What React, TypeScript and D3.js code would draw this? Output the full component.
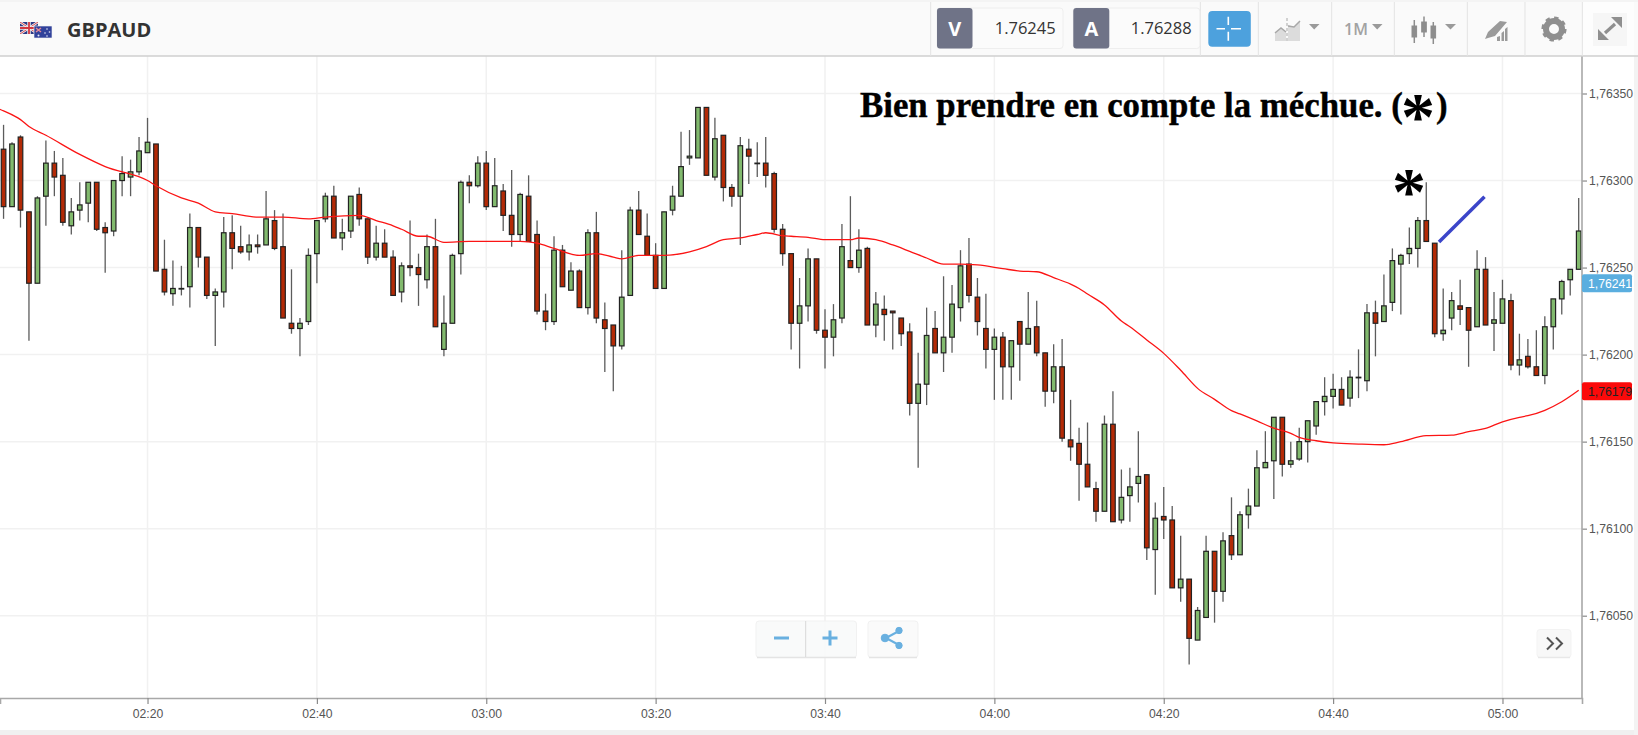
import { useEffect, useRef } from 'react';
import * as d3 from 'd3';

// prices are stored as points above 1.76000
const BASE_PRICE = 1.76;
const FIRST_MINUTE = 123; // 02:03

const opens = [
  318,285,325,282,241,291,310,303,274,283,
  287,299,273,271,300,302,305,316,321,249,
  235,238,239,273,256,234,236,270,262,259,
  263,263,277,262,218,215,219,258,278,291,
  267,271,292,278,256,264,256,236,251,250,
  243,262,203,218,258,299,297,310,285,294,
  280,269,291,269,225,219,260,237,248,227,
  270,220,217,205,234,283,268,257,238,283,
  291,313,313,342,302,326,296,291,318,310,
  310,304,272,258,218,228,255,214,210,221,
  254,250,261,217,226,225,221,213,172,183,
  215,201,210,227,252,233,215,203,210,193,
  219,206,216,201,179,193,151,149,137,123,
  110,160,105,119,126,131,88,107,105,66,
  71,36,49,87,64,96,85,108,113,135,
  139,164,137,140,150,159,173,176,180,175,
  187,185,224,219,230,252,258,261,277,264,
  212,221,228,227,216,249,218,218,231,194,
  199,193,188,216,232,243,249,
];
const closes = [
  285,321,283,241,290,310,302,276,282,286,
  299,272,270,300,304,305,317,322,248,236,
  238,238,273,256,234,236,270,261,259,263,
  262,278,261,221,215,218,257,277,291,267,
  270,291,278,256,264,256,234,251,250,246,
  262,216,218,257,299,297,310,285,297,280,
  269,292,265,225,219,260,239,248,227,270,
  221,215,205,233,283,269,257,238,282,291,
  308,314,342,303,324,296,291,320,314,310,
  303,272,258,218,228,255,214,210,220,262,
  250,260,217,229,223,224,212,172,183,211,
  201,210,229,251,234,219,203,210,193,208,
  206,215,201,179,193,152,147,137,124,110,
  160,104,118,124,130,89,106,105,66,71,
  37,53,87,64,93,85,108,113,135,138,
  164,137,139,150,162,173,176,180,171,187,
  187,224,218,228,254,257,261,277,265,212,
  214,231,226,214,249,217,220,232,194,197,
  193,188,216,232,242,249,271,
];
const highs = [
  332,322,326,282,291,323,317,313,290,299,
  299,299,276,300,314,312,325,336,321,266,
  254,251,281,273,256,238,279,280,274,269,
  269,294,283,281,249,221,261,277,293,297,
  278,291,296,278,274,272,260,253,277,258,
  269,278,234,258,300,303,314,317,313,298,
  306,293,303,277,235,268,263,253,249,272,
  282,230,217,260,285,294,281,264,282,297,
  328,329,342,342,336,326,298,325,324,322,
  325,305,275,258,244,261,255,226,229,275,
  291,272,262,236,234,225,221,218,201,227,
  225,245,240,260,267,244,235,215,213,208,
  219,236,231,201,206,209,174,158,161,127,
  165,179,134,135,156,131,115,124,113,96,
  71,55,96,87,98,118,110,123,145,156,
  164,164,150,158,162,173,187,189,187,191,
  203,229,231,246,261,258,273,279,299,264,
  238,236,243,227,260,256,236,243,235,212,
  209,214,222,232,243,249,290,
];
const lows = [
  278,285,273,208,241,274,291,274,269,277,
  276,271,247,268,291,291,303,316,248,234,
  228,234,227,250,232,205,227,249,258,254,
  258,263,260,221,212,199,217,241,276,267,
  260,267,274,252,254,256,234,230,245,228,
  238,216,199,218,246,287,296,283,285,271,
  262,265,265,223,214,217,239,237,227,223,
  218,190,179,203,234,269,257,238,238,280,
  291,309,313,303,300,288,285,263,298,302,
  296,270,251,203,192,219,212,192,199,218,
  250,247,217,210,208,203,205,165,135,171,
  201,190,201,219,230,211,192,174,174,174,
  185,206,199,170,172,150,139,116,124,104,
  110,104,103,104,115,82,62,94,66,58,
  22,36,49,46,58,82,85,100,113,135,
  117,130,135,139,138,154,165,169,171,170,
  175,179,199,219,225,223,252,250,265,210,
  208,214,217,193,216,217,202,218,191,188,
  192,188,183,203,223,234,249,
];

// moving average, read at these candle numbers
const maCandles = [
  -1,0,2,3,5,9,12,17,18,21,23,25,27,30,33,36,38,42,44,
  46,47,49,50,52,55,58,61,63,65,68,70,72,73,75,78,81,83,85,87,89,
  90,92,93,95,97,100,101,103,105,107,109,111,113,115,118,120,122,124,126,127,128,130,132,133,
  135,137,139,141,143,145,146,148,150,152,153,155,157,160,163,165,168,171,173,175,177,179,180,182,184,186,
];
const maValues = [
  342,340,335,331,326,315,308,300,297,290,287,282,281,279,279,278,279,280,277,
  274,272,268,268,264.5,265,265,265,264,261,257,258,256,255,257,257,259,262,266,267,269,
  270,268.3,268,267.4,266,266,267,266,263,259.3,255.5,252,252,251.5,249.4,248,247.6,244.2,240.5,238,234.8,228.5,219.3,216,
  208.4,200.7,191,180.6,174.3,167.8,165.9,161.9,157.7,154.8,152.4,150.5,149.3,148.6,148.2,150,153.4,153.7,155.7,157.6,161.4,164,164.9,168,172.9,179.5,
];

const priceTicks = [1.7605, 1.761, 1.7615, 1.762, 1.7625, 1.763, 1.7635];
const timeTicks = [140, 160, 180, 200, 220, 240, 260, 280, 300];
const bidLabel = 1.76241;
const maLabel = 1.76179;

const symbol = 'GBPAUD';
const sellQuote = '1.76245';
const buyQuote = '1.76288';
const note = 'Bien prendre en compte la méchue. (';

const frFormat = (v: number) => v.toFixed(5).replace('.', ',');
const timeFormat = (m: number) => `${String(Math.floor(m / 60)).padStart(2, '0')}:${String(m % 60).padStart(2, '0')}`;

const SANS = '"Liberation Sans", Arial, sans-serif';
const SERIF = '"Liberation Serif", serif';
const UI = '"Open Sans", sans-serif';
const ICON = '#9a9a9a';
const CHART_TOP = 56;
const CHART_BOTTOM = 698;
const CHART_RIGHT = 1582;

export default function App() {
  const chartRef = useRef<SVGGElement>(null);

  useEffect(() => {
    if (!chartRef.current) return;
    const g = d3.select(chartRef.current);
    g.selectAll('*').remove();

    const x = d3.scaleLinear().domain([122.58, 309.39]).range([0, CHART_RIGHT]);
    const y = d3.scaleLinear().domain([1.7605, 1.7635]).range([615.7, 93.5]);
    const price = (p: number) => y(BASE_PRICE + p / 1e5);
    const candleX = (i: number) => x(FIRST_MINUTE + i);

    // grid
    g.append('g').selectAll('line').data(priceTicks).join('line')
      .attr('x1', 0).attr('x2', CHART_RIGHT)
      .attr('y1', d => y(d)).attr('y2', d => y(d))
      .attr('stroke', '#f1f1f1').attr('stroke-width', 1.5);
    g.append('g').selectAll('line').data(timeTicks).join('line')
      .attr('x1', d => x(d)).attr('x2', d => x(d))
      .attr('y1', CHART_TOP).attr('y2', CHART_BOTTOM)
      .attr('stroke', '#f1f1f1').attr('stroke-width', 1.5);

    // candles
    const candles = g.append('g').selectAll('g').data(opens).join('g');
    candles.append('line')
      .attr('x1', (_, i) => candleX(i)).attr('x2', (_, i) => candleX(i))
      .attr('y1', (_, i) => price(highs[i])).attr('y2', (_, i) => price(lows[i]))
      .attr('stroke', '#5c5c5c').attr('stroke-width', 1.3);
    candles.append('rect')
      .attr('x', (_, i) => candleX(i) - 2.3)
      .attr('width', 4.6)
      .attr('y', (_, i) => price(Math.max(opens[i], closes[i])))
      .attr('height', (_, i) => Math.max(Math.abs(price(opens[i]) - price(closes[i])), 0.6))
      .attr('fill', (_, i) => (closes[i] >= opens[i] ? '#82ba6e' : '#b32a06'))
      .attr('stroke', '#222').attr('stroke-width', 1.2);

    // moving average
    const maLine = d3.line<number>()
      .x((_, i) => candleX(maCandles[i]))
      .y(d => price(d))
      .curve(d3.curveMonotoneX);
    g.append('path').attr('d', maLine(maValues)).attr('fill', 'none')
      .attr('stroke', '#fb1414').attr('stroke-width', 1.3);

    // axes
    const xAxis = d3.axisBottom(x).tickValues(timeTicks).tickFormat(d => timeFormat(+d)).tickSize(6).tickPadding(5);
    const gx = g.append('g').attr('transform', `translate(0,${CHART_BOTTOM})`).call(xAxis);
    gx.select('.domain').attr('stroke', '#a8a8a8').attr('stroke-width', 1.6);
    gx.selectAll('.tick line').attr('stroke', '#8a8a8a').attr('stroke-width', 1.2);
    gx.selectAll('text').attr('fill', '#555').attr('font-family', SANS).attr('font-size', 12.2);

    const yAxis = d3.axisRight(y).tickValues(priceTicks).tickFormat(d => frFormat(+d)).tickSize(5).tickPadding(2);
    const gy = g.append('g').attr('transform', `translate(${CHART_RIGHT},0)`).call(yAxis);
    gy.select('.domain').remove();
    gy.selectAll('.tick line').attr('stroke', '#8a8a8a').attr('stroke-width', 1.2);
    gy.selectAll('text').attr('fill', '#555').attr('font-family', SANS).attr('font-size', 12.2);
    g.append('line').attr('x1', CHART_RIGHT).attr('x2', CHART_RIGHT).attr('y1', CHART_TOP).attr('y2', CHART_BOTTOM + 1)
      .attr('stroke', '#a8a8a8').attr('stroke-width', 1.6);

    // price flags on the right axis
    const flags = [
      { value: bidLabel, fill: '#5aaedf', text: '#fff' },
      { value: maLabel, fill: '#fb0a0a', text: '#222' },
    ];
    const flag = g.append('g').selectAll('g').data(flags).join('g')
      .attr('transform', d => `translate(${CHART_RIGHT},${y(d.value)})`);
    flag.append('rect').attr('x', 0).attr('y', -9).attr('width', 50).attr('height', 18).attr('rx', 2).attr('fill', d => d.fill);
    flag.append('text').attr('x', 6).attr('y', 4.5).attr('font-family', SANS).attr('font-size', 12.2)
      .attr('fill', d => d.text).text(d => frFormat(d.value));
  }, []);

  return (
    <svg width={1638} height={735} style={{ position: 'fixed', left: 0, top: 0, background: '#fff' }}>
      <defs>
        <clipPath id="ukFlag"><rect x={20} y={22} width={18} height={12} /></clipPath>
      </defs>

      <g ref={chartRef} />

      {/* annotations */}
      <g fontFamily={SERIF} fontWeight={700} fill="#000">
        <text x={860} y={117} fontSize={34.8} stroke="#000" strokeWidth={0.4}>{note}</text>
        <text x={1418} y={139} fontSize={68} textAnchor="middle">*</text>
        <text x={1436} y={117} fontSize={34.8} stroke="#000" strokeWidth={0.4}>)</text>
        <text x={1409} y={214} fontSize={68} textAnchor="middle">*</text>
      </g>
      <line x1={1439} y1={242} x2={1484.5} y2={196.7} stroke="#3b45c9" strokeWidth={3.5} />

      {/* zoom + share buttons */}
      <rect x={756} y={621} width={100.5} height={36.5} rx={3} fill="#f8f9f9" fillOpacity={0.85} stroke="#f1f1f1" />
      <line x1={757} x2={856} y1={657.5} y2={657.5} stroke="#e4e4e4" strokeWidth={1.5} />
      <line x1={805.7} x2={805.7} y1={621} y2={657} stroke="#d8d8d8" />
      <line x1={774} x2={789} y1={638} y2={638} stroke="#69b0e0" strokeWidth={3} />
      <path d="M822.5 638H837.5M830 630.5V645.5" stroke="#69b0e0" strokeWidth={3} fill="none" />
      <rect x={868} y={621} width={50} height={36.5} rx={3} fill="#fafafa" stroke="#f1f1f1" />
      <line x1={869} x2={917} y1={657.5} y2={657.5} stroke="#e4e4e4" strokeWidth={1.5} />
      <g fill="#69b0e0" stroke="#69b0e0">
        <path d="M886 638L899 631M886 638L899 645" strokeWidth={2} fill="none" />
        <circle cx={885} cy={638} r={3.8} />
        <circle cx={899} cy={630.5} r={3.2} />
        <circle cx={899} cy={645.5} r={3.2} />
      </g>
      <rect x={1537} y={629.5} width={34} height={28} rx={3} fill="#f8f8f8" stroke="#f3f3f3" />
      <line x1={1538} x2={1570} y1={657.5} y2={657.5} stroke="#e8e8e8" strokeWidth={1.5} />
      <path d="M1547 637.5L1553 643.5L1547 649.5M1556 637.5L1562 643.5L1556 649.5" fill="none" stroke="#555" strokeWidth={2} />

      {/* page edge */}
      <rect x={0} y={730} width={1638} height={5} fill="#f0f0f0" />
      <rect x={1634} y={0} width={4} height={735} fill="#f3f3f3" />

      {/* header */}
      <rect x={0} y={0} width={1638} height={56} fill="#fafafa" />
      <line x1={0} x2={1638} y1={1} y2={1} stroke="#eeeeee" />
      <line x1={0} x2={1638} y1={56} y2={56} stroke="#cfcfcf" strokeWidth={1.5} />

      <g clipPath="url(#ukFlag)">
        <rect x={20} y={22} width={18} height={12} fill="#2c3a85" />
        <path d="M20 22L38 34M38 22L20 34" stroke="#f2f2f2" strokeWidth={2.4} />
        <path d="M20 22L38 34M38 22L20 34" stroke="#d2363f" strokeWidth={0.9} />
        <path d="M29 22V34M20 28H38" stroke="#f2f2f2" strokeWidth={3.4} />
        <path d="M29 22V34M20 28H38" stroke="#d2363f" strokeWidth={1.8} />
      </g>
      <rect x={34} y={26} width={18} height={12} fill="#31429b" stroke="#f5f5f5" strokeWidth={0.6} />
      <path d="M36 28L41 32M41 28L36 32" stroke="#e88a96" strokeWidth={1.4} />
      <g fill="#e6e9f5">
        <circle cx={47} cy={29} r={0.8} /><circle cx={49.5} cy={32} r={0.8} /><circle cx={45} cy={33} r={0.8} /><circle cx={47} cy={36} r={0.8} /><circle cx={38.5} cy={35.5} r={1} />
      </g>
      <text x={67} y={36.5} fontFamily={UI} fontWeight={700} fontSize={20} fill="#333">{symbol}</text>

      {[930.7, 1200.3, 1258.3, 1331.7, 1394.3, 1467.3, 1525, 1582.3].map(v => (
        <line key={v} x1={v} x2={v} y1={2} y2={56} stroke="#e3e3e3" />
      ))}
      <rect x={1583} y={2} width={51} height={53} fill="#fdfdfd" />
      <rect x={1593} y={13} width={34} height={33} fill="#f6f6f6" />

      {/* sell / buy quotes */}
      <rect x={937} y={8} width={126} height={40.5} rx={3} fill="#fbfbfb" stroke="#eeeeee" />
      <rect x={937} y={8} width={35.5} height={40.5} rx={3} fill="#6f7387" />
      <text x={954.7} y={36} textAnchor="middle" fontFamily={UI} fontWeight={700} fontSize={20} fill="#fff">V</text>
      <text x={1055.7} y={34} textAnchor="end" fontFamily={UI} fontSize={16.5} fill="#333">{sellQuote}</text>
      <rect x={1073.3} y={8} width={126.5} height={40.5} rx={3} fill="#fbfbfb" stroke="#eeeeee" />
      <rect x={1073.3} y={8} width={36} height={40.5} rx={3} fill="#6f7387" />
      <text x={1091.3} y={36} textAnchor="middle" fontFamily={UI} fontWeight={700} fontSize={20} fill="#fff">A</text>
      <text x={1191.7} y={34} textAnchor="end" fontFamily={UI} fontSize={16.5} fill="#333">{buyQuote}</text>

      <rect x={1208.3} y={11} width={42.5} height={35.7} rx={4} fill="#4da1dd" />
      <path d="M1216.5 28.7H1225M1231 28.7H1241M1228.3 16.7V25M1228.3 31.7V40.7" stroke="#fff" strokeWidth={1.6} fill="none" />

      {/* toolbar icons */}
      <path d="M1275 41V32L1281 28L1286 32V41ZM1288 41V25L1294 27L1300 21V41Z" fill="#dcdcdc" />
      <path d="M1275 33L1281 28L1286 32M1288 26L1294 27L1300 21" stroke="#a8a8a8" strokeWidth={1.5} fill="none" />
      <line x1={1287} x2={1287} y1={18} y2={41} stroke="#a8a8a8" strokeDasharray="3 2" />
      <path d="M1309 24H1319.5L1314.2 29.5Z" fill={ICON} />
      <text x={1344} y={35} fontFamily={UI} fontWeight={600} fontSize={16} fill="#a2a2a2">1M</text>
      <path d="M1372 24H1382.5L1377.2 29.5Z" fill={ICON} />
      <g stroke="#8d8d8d" fill="#8d8d8d">
        <line x1={1414.3} x2={1414.3} y1={20} y2={43} strokeWidth={1.5} />
        <rect x={1412} y={26} width={4.6} height={11} />
        <line x1={1424} x2={1424} y1={16.5} y2={37} strokeWidth={1.5} />
        <rect x={1421.7} y={22} width={4.6} height={10} />
        <line x1={1433.3} x2={1433.3} y1={22} y2={44} strokeWidth={1.5} />
        <rect x={1431} y={26} width={4.6} height={12} />
      </g>
      <path d="M1445 24H1456L1450.5 29.5Z" fill={ICON} />
      <path d="M1485 39L1488 32L1500 21L1507 22L1495 36L1488 38Z" fill={ICON} />
      <path d="M1497 41V37L1500 36V41ZM1501.5 41V33L1504 31V41ZM1505 41V29L1507.5 27V41Z" fill={ICON} />
      <circle cx={1554} cy={29} r={8} fill="none" stroke="#8f8f8f" strokeWidth={6} />
      <circle cx={1554} cy={29} r={11} fill="none" stroke="#8f8f8f" strokeWidth={3.2} strokeDasharray="4.3 4.3" />
      <path d="M1622 17H1611L1622 28ZM1598 40H1609L1598 29Z" fill="#8f8f8f" />
      <path d="M1615 24L1605 33" stroke="#8f8f8f" strokeWidth={3.2} fill="none" />
    </svg>
  );
}
